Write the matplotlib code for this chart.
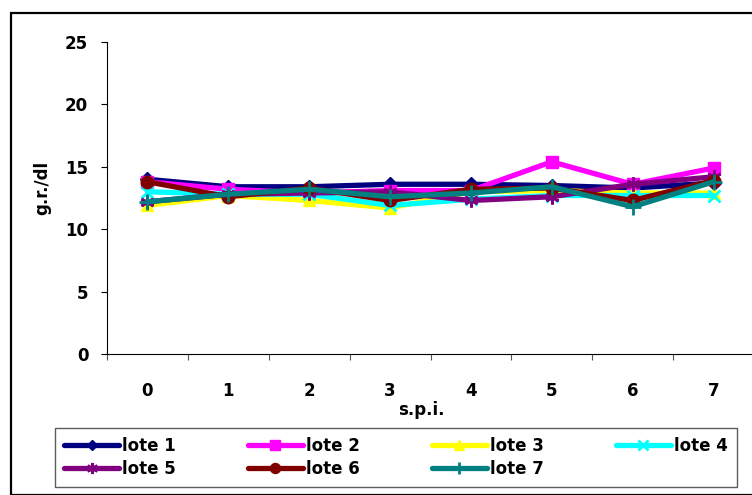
import matplotlib
matplotlib.use("Agg")
import matplotlib.pyplot as plt
from matplotlib.patches import Rectangle

plt.rcParams['font.family'] = ['DejaVu Sans']
plt.rcParams['font.weight'] = 'bold'

categories = ["0", "1", "2", "3", "4", "5", "6", "7"]
series_names = ["lote 1", "lote 2", "lote 3", "lote 4", "lote 5", "lote 6", "lote 7"]
lote1 = [14.0, 13.4, 13.4, 13.6, 13.6, 13.5, 13.3, 13.7]
lote2 = [13.8, 13.2, 12.9, 13.1, 13.1, 15.4, 13.6, 14.9]
lote3 = [11.9, 12.7, 12.3, 11.7, 13.0, 13.1, 12.9, 12.9]
lote4 = [13.0, 12.8, 12.8, 11.9, 12.4, 12.7, 12.7, 12.7]
lote5 = [12.2, 12.8, 12.9, 13.0, 12.3, 12.6, 13.6, 14.2]
lote6 = [13.8, 12.6, 13.3, 12.3, 13.2, 13.3, 12.3, 13.9]
lote7 = [12.2, 12.8, 13.2, 12.6, 12.9, 13.4, 11.8, 13.8]
yticks = [0, 5, 10, 15, 20, 25]

series = [lote1, lote2, lote3, lote4, lote5, lote6, lote7]
colors = ['#000080', '#FF00FF', '#FFFF00', '#00FFFF', '#800080', '#800000', '#008080']
markers = ['D', 's', '^', 'x', (6, 2, 0), 'o', '+']
msizes = [7, 9, 9, 9, 10, 9, 11]

W, H = 752, 495
fig = plt.figure(figsize=(W / 100, H / 100), dpi=100)

# outer chart border
fig.patches.append(Rectangle((11 / W, 0), 1.0, (H - 13) / H, transform=fig.transFigure,
                             fill=False, edgecolor='black', linewidth=1.6, clip_on=False))

ax = fig.add_axes([107 / W, (H - 354) / H, (754 - 107) / W, (354 - 42) / H])
x = list(range(len(categories)))
handles = []
for vals, name, c, m, ms in zip(series, series_names, colors, markers, msizes):
    h, = ax.plot(x, vals, color=c, marker=m, markersize=ms, linewidth=3.8,
                 markeredgecolor=c, markerfacecolor=c,
                 markeredgewidth=2 if m in ('x', '+') or isinstance(m, tuple) else 1,
                 label=name, solid_joinstyle='round', solid_capstyle='round')
    handles.append(h)

ax.set_xlim(-0.5, len(categories) - 0.5)
ax.set_ylim(0, 25)
ax.set_yticks(yticks)
ax.set_yticklabels([str(v) for v in yticks], fontsize=12, fontweight='bold')
ax.set_xticks(x)
ax.set_xticklabels(categories, fontsize=12, fontweight='bold')
ax.set_xticks([i + 0.5 for i in range(-1, len(categories))], minor=True)
ax.tick_params(axis='x', which='major', length=0, pad=20)
ax.tick_params(axis='x', which='minor', length=4.5, direction='out', width=0.8, color='#555555')
ax.tick_params(axis='y', length=4.5, direction='out', width=0.8, pad=9)
for s in ['top', 'right']:
    ax.spines[s].set_visible(False)
ax.spines['left'].set_linewidth(0.8)
ax.spines['bottom'].set_linewidth(0.8)

fig.text(42 / W, 1 - 188 / H, 'g.r./dl', rotation=90, fontsize=12, fontweight='bold',
         ha='center', va='center')
fig.text(421 / W, 1 - 410 / H, 's.p.i.', fontsize=12, fontweight='bold',
         ha='center', va='center')

# legend in row-major order over 4 columns
order = [0, 4, 1, 5, 2, 6, 3]
leg = fig.legend([handles[i] for i in order], [series_names[i] for i in order],
                 loc='upper left', bbox_to_anchor=(55 / W, 1 - 428 / H),
                 ncol=4, frameon=True, fancybox=False, edgecolor='#333333',
                 prop={'size': 12, 'weight': 'bold'}, handlelength=3.3, handletextpad=0.2,
                 labelspacing=0.3, borderaxespad=0, borderpad=0.55, columnspacing=4.3,
                 markerscale=0.8)
leg.get_frame().set_linewidth(1.0)

fig.savefig('out.png', dpi=100)
